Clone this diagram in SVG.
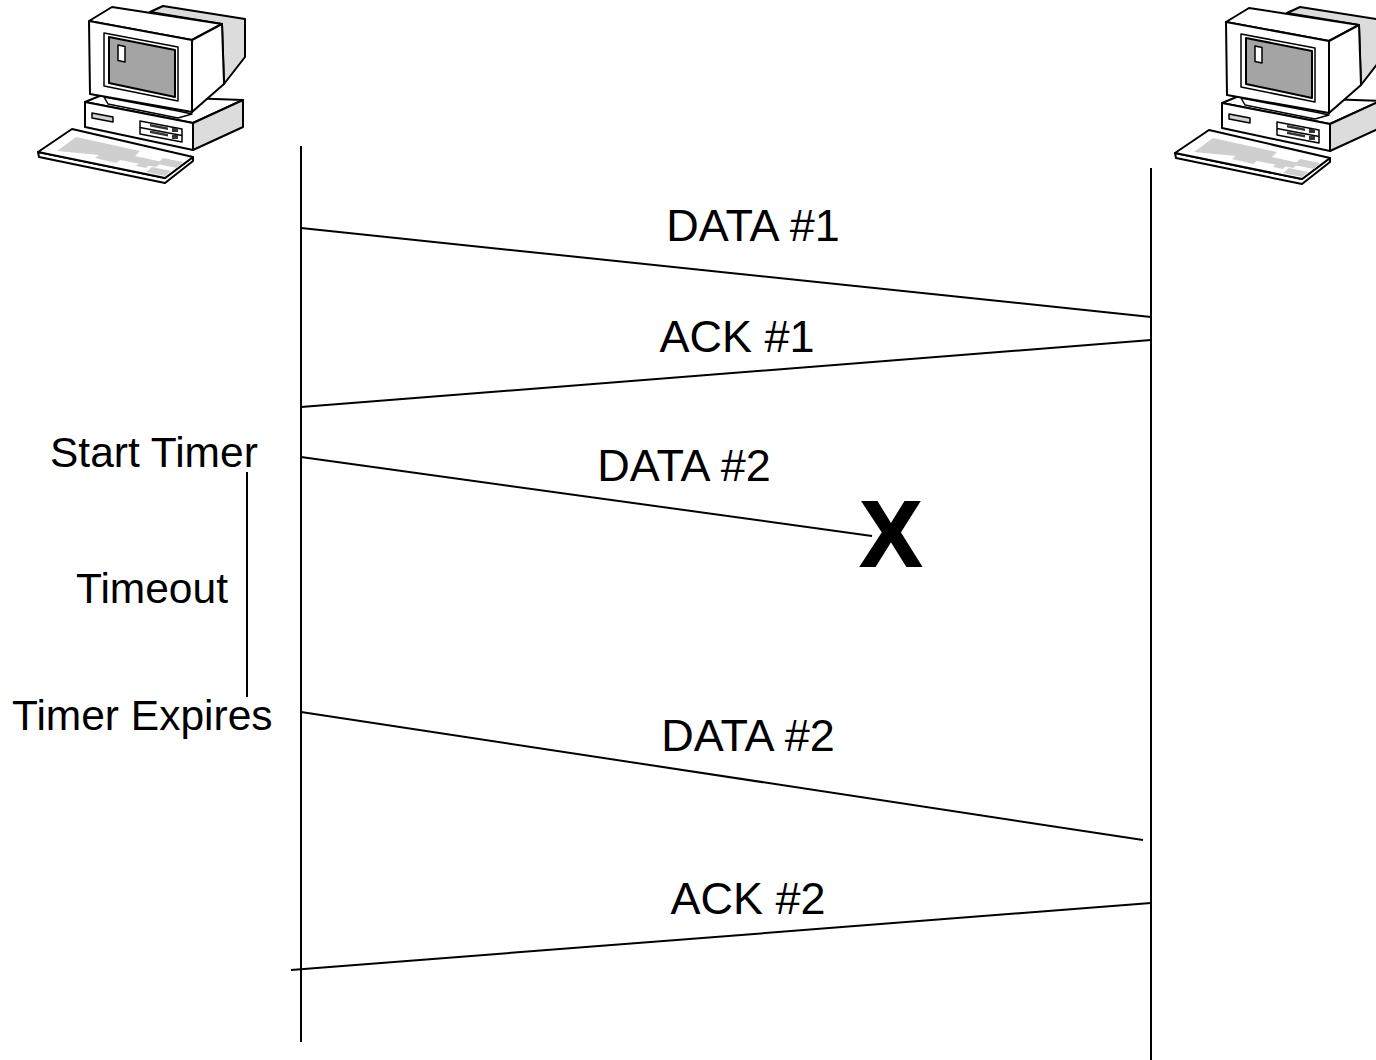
<svg xmlns="http://www.w3.org/2000/svg" xmlns:xlink="http://www.w3.org/1999/xlink" width="1376" height="1060" viewBox="0 0 1376 1060">
  <style>
    .ln { stroke: #000; stroke-width: 2; fill: none; }
    .lbl { font-family: "Liberation Sans", Arial, sans-serif; font-size: 45px; fill: #000; }
    .side { font-family: "Liberation Sans", Arial, sans-serif; font-size: 42.5px; fill: #000; }
    .lost { font-family: "Liberation Sans", Arial, sans-serif; font-size: 92px; font-weight: bold; fill: #000; stroke: #000; stroke-width: 2; }
    .pc { stroke: #000; stroke-width: 2; stroke-linejoin: round; }
    .w { fill: #fff; }
    .g { fill: #dcdcdc; }
    .scr { fill: #a4a4a4; }
    .key { fill: #cfcfcf; stroke: none; }
  </style>
  <defs>
    <!-- desktop computer clip-art: case, CRT monitor, keyboard -->
    <g id="pc" class="pc">
      <!-- system case -->
      <polygon class="w" points="85,102 102,95 243,100 193,123"/>
      <polygon class="w" points="85,102 193,123 193,150 85,127"/>
      <polygon class="g" points="193,123 243,100 243,127 193,150"/>
      <polygon fill="#d0d0d0" stroke-width="1.5" points="92,113 113,117 113,122 92,118"/>
      <polygon class="w" stroke-width="1.5" points="140,121 182,129 182,142 140,134"/>
      <line x1="140" y1="127.5" x2="182" y2="135.5" stroke-width="1.5"/>
      <polygon fill="#333" stroke="none" points="150,124 168,127.5 168,130 150,126.5"/>
      <polygon fill="#333" stroke="none" points="150,130.5 168,134 168,136.5 150,133"/>
      <rect x="172" y="128" width="6" height="4" fill="#333" stroke="none"/>
      <rect x="172" y="135" width="6" height="4" fill="#333" stroke="none"/>
      <!-- monitor -->
      <polygon class="w" stroke-width="1.5" points="104,97 178,111 192,114 178,118 108,104"/>
      <polygon class="g" points="150,12 163,6 245,19 245,57 224,84 222,24"/>
      <polygon class="w" points="89,21 112,7 222,24 192,40"/>
      <polygon class="w" points="192,40 222,24 224,84 192,112"/>
      <polygon class="w" points="89,21 192,40 192,112 90,94"/>
      <polygon class="w" stroke-width="1.5" points="104,33 178,47 178,101 104,86"/>
      <polygon class="scr" points="109,37 175,50 175,97 109,83"/>
      <polygon class="w" stroke-width="1.5" points="118,45 125,46.5 125,62 118,60.5"/>
      <!-- keyboard -->
      <polygon class="w" points="38,152 165,178 193,157 193,161 165,183 39,157"/>
      <polygon class="w" points="38,152 72,129 193,157 165,178"/>
      <polygon class="key" points="57,151 76,137 140,151 135,156 162,162 156,167 120,160 116,163 95,158 99,155"/>
      <polygon class="key" points="140,162 150,164 146,168 136,166"/>
      <polygon class="key" points="152,167 171,171 165,176 146,172"/>
      <polygon class="key" points="163,158 183,162 177,168 157,164"/>
    </g>
  </defs>

  <g id="sender"><use xlink:href="#pc"/></g>
  <g id="receiver"><use xlink:href="#pc" transform="translate(1137,1)"/></g>

  <!-- timelines and messages -->
  <g id="connectors" class="ln">
    <line x1="301" y1="146" x2="301" y2="1042"/>
    <line x1="1151" y1="168" x2="1151" y2="1060"/>
    <line x1="301" y1="228" x2="1151" y2="317"/>
    <line x1="1151" y1="340" x2="301" y2="407"/>
    <line x1="301" y1="457" x2="872" y2="536"/>
    <line x1="301" y1="712" x2="1143" y2="840"/>
    <line x1="1151" y1="903" x2="291" y2="970"/>
    <line x1="247" y1="472" x2="247" y2="697"/>
  </g>

  <g id="labels">
    <text class="lbl" x="753" y="241" text-anchor="middle">DATA #1</text>
    <text class="lbl" x="737" y="352" text-anchor="middle">ACK #1</text>
    <text class="lbl" x="684" y="481" text-anchor="middle">DATA #2</text>
    <text class="lbl" x="748" y="751" text-anchor="middle">DATA #2</text>
    <text class="lbl" x="748" y="914" text-anchor="middle">ACK #2</text>
    <text class="side" x="50" y="467">Start Timer</text>
    <text class="side" x="76" y="603">Timeout</text>
    <text class="side" x="12" y="730">Timer Expires</text>
    <text class="lost" x="891" y="566" text-anchor="middle">X</text>
  </g>
</svg>
